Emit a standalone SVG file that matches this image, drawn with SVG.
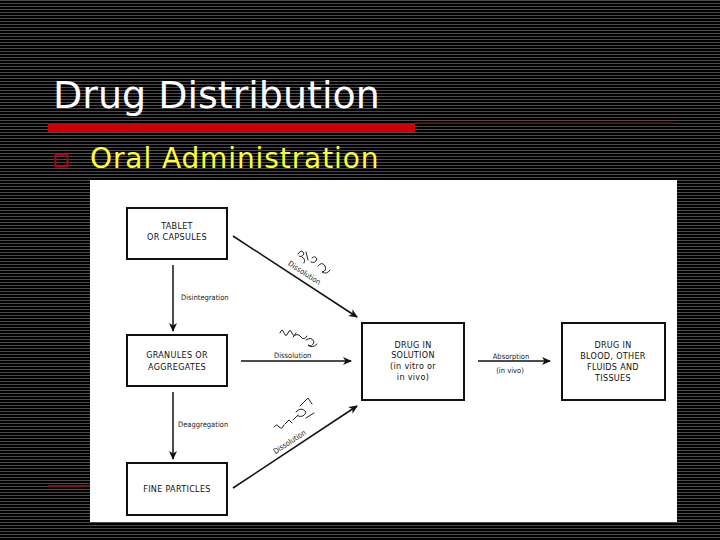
<svg xmlns="http://www.w3.org/2000/svg" width="720" height="540" viewBox="0 0 720 540">
  <style>
    .box { fill: #ffffff; stroke: #111; stroke-width: 2; }
    .nt { font-family: "DejaVu Sans Condensed", "DejaVu Sans", sans-serif; font-size: 9px; fill: #111; text-anchor: middle; letter-spacing: 0.3px; }
    .lb { font-family: "DejaVu Sans Condensed", "DejaVu Sans", sans-serif; font-size: 7.5px; fill: #222; }
    .conn { stroke: #111; stroke-width: 1.5; fill: none; }
    .scr { stroke: #222; stroke-width: 1; fill: none; stroke-linecap: round; stroke-linejoin: round; }
  </style>
  <defs>
    <pattern id="stripes" width="8" height="3" patternUnits="userSpaceOnUse">
      <rect width="8" height="3" fill="#000"/>
      <rect y="0" width="8" height="1" fill="#4a4a4a"/>
    </pattern>
    <marker id="arr" markerWidth="10" markerHeight="10" refX="8" refY="4" orient="auto" markerUnits="userSpaceOnUse">
      <path d="M0,0 L9,4 L0,8 L2.5,4 z" fill="#111"/>
    </marker>
  </defs>

  <rect width="720" height="540" fill="url(#stripes)"/>

  <!-- title -->
  <text x="53" y="108" font-family="DejaVu Sans, sans-serif" font-size="38" fill="#ffffff">Drug Distribution</text>
  <rect x="48" y="123" width="367" height="9" fill="#cc0000"/>
  <rect x="415" y="122.5" width="260" height="1.5" fill="#7a1010"/>
  <rect x="55.5" y="154.5" width="12" height="12" fill="none" stroke="#b00018" stroke-width="2"/>
  <text x="90" y="168" font-family="DejaVu Sans, sans-serif" font-size="28" letter-spacing="0.9" fill="#ffff33">Oral Administration</text>
  <rect x="48" y="485" width="42" height="2" fill="#7a1515"/>

  <!-- figure panel -->
  <rect x="90" y="180" width="587" height="342" fill="#ffffff"/>

  <g id="connectors">
    <line class="conn" x1="233" y1="236" x2="357" y2="317" marker-end="url(#arr)"/>
    <line class="conn" x1="173" y1="265" x2="173" y2="331" marker-end="url(#arr)"/>
    <line class="conn" x1="241" y1="361" x2="351" y2="361" stroke-width="1" marker-end="url(#arr)"/>
    <line class="conn" x1="173" y1="392" x2="173" y2="459" marker-end="url(#arr)"/>
    <line class="conn" x1="233" y1="488" x2="357" y2="406" marker-end="url(#arr)"/>
    <line class="conn" x1="478" y1="361" x2="550" y2="361" marker-end="url(#arr)"/>

    <text class="lb" x="181" y="300">Disintegration</text>
    <text class="lb" x="274" y="358">Dissolution</text>
    <text class="lb" x="178" y="427">Deaggregation</text>
    <text class="lb" x="303" y="275" text-anchor="middle" transform="rotate(33.2 303 275)">Dissolution</text>
    <text class="lb" x="291" y="444" text-anchor="middle" transform="rotate(-33.2 291 444)">Dissolution</text>
    <text class="lb" x="511" y="359" text-anchor="middle">Absorption</text>
    <text class="lb" x="510" y="373" text-anchor="middle">(in vivo)</text>

    <!-- handwritten scribbles -->
    <path class="scr" d="M298,254 q4,-6 6,0 q-3,4 -5,2 M302,257 q4,2 2,6 M306,252 l2,8 M312,258 q3,-3 5,1 q-2,5 -6,3 M318,266 q4,-5 7,0 q2,5 -3,6 q5,3 8,-2"/>
    <path class="scr" d="M280,333 q2,-6 4,0 q2,5 4,0 q2,-5 4,0 q2,5 4,0 M293,337 q4,-5 8,0 q3,4 6,-1 M306,340 q6,-4 8,2 q-2,6 -6,3 q4,4 9,-1"/>
    <path class="scr" d="M274,427 q3,-4 5,0 q3,3 5,-2 M285,424 l4,-4 l3,3 M293,420 l5,-5 M296,412 q5,-6 10,0 q-2,6 -8,4 M300,406 l8,-8 l4,6 M306,418 l8,-5"/>
  </g>

  <g id="tablet">
    <rect class="box" x="127" y="208" width="100" height="51"/>
    <text class="nt" x="177" y="229">TABLET</text>
    <text class="nt" x="177" y="240">OR CAPSULES</text>
  </g>
  <g id="granules">
    <rect class="box" x="127" y="335" width="100" height="51"/>
    <text class="nt" x="177" y="358">GRANULES OR</text>
    <text class="nt" x="177" y="370">AGGREGATES</text>
  </g>
  <g id="fine">
    <rect class="box" x="127" y="463" width="100" height="52"/>
    <text class="nt" x="177" y="492">FINE PARTICLES</text>
  </g>
  <g id="solution">
    <rect class="box" x="362" y="323" width="102" height="77"/>
    <text class="nt" x="413" y="348">DRUG IN</text>
    <text class="nt" x="413" y="358">SOLUTION</text>
    <text class="nt" x="413" y="369">(in vitro or</text>
    <text class="nt" x="413" y="380">in vivo)</text>
  </g>
  <g id="blood">
    <rect class="box" x="562" y="323" width="103" height="77"/>
    <text class="nt" x="613" y="348">DRUG IN</text>
    <text class="nt" x="613" y="359">BLOOD, OTHER</text>
    <text class="nt" x="613" y="370">FLUIDS AND</text>
    <text class="nt" x="613" y="381">TISSUES</text>
  </g>
</svg>
